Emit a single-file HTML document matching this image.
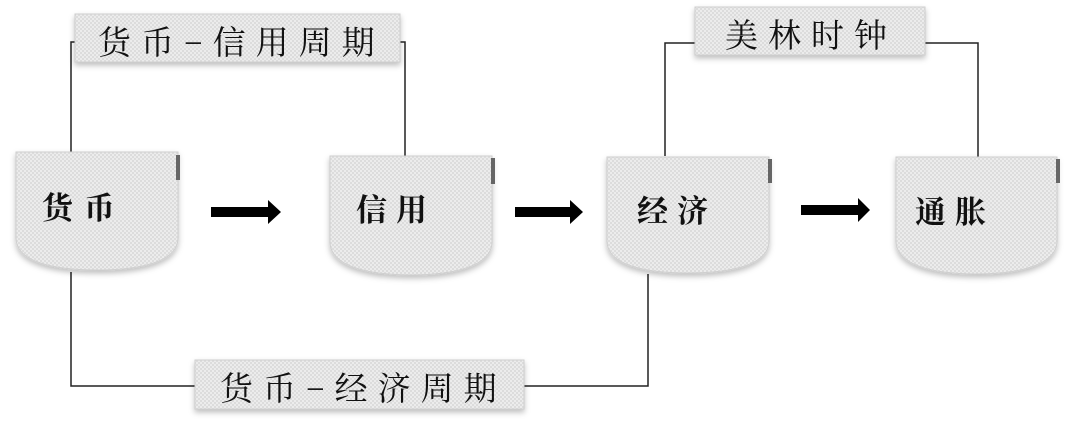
<!DOCTYPE html>
<html><head><meta charset="utf-8"><style>
html,body{margin:0;padding:0;background:#fff;}
svg{display:block}
text{font-family:"Liberation Serif","Noto Serif CJK SC",serif;fill:#111;}
</style></head><body>
<svg width="1074" height="423" viewBox="0 0 1074 423" xmlns="http://www.w3.org/2000/svg">
<defs>
<pattern id="p" width="4" height="4" patternUnits="userSpaceOnUse">
<rect width="4" height="4" fill="#ececec"/>
<rect width="2" height="2" fill="#dcdcdc"/>
<rect x="2" y="2" width="2" height="2" fill="#dcdcdc"/>
</pattern>
<filter id="s" x="-10%" y="-10%" width="120%" height="130%">
<feDropShadow dx="0" dy="3" stdDeviation="3" flood-color="#000" flood-opacity="0.25"/>
</filter>
</defs>
<g stroke="#222" stroke-width="1.5" fill="none">
<polyline points="71,152 71,42 76,42"/>
<polyline points="400,42 405,42 405,157"/>
<polyline points="665,156 665,43 696,43"/>
<polyline points="925,43 978,43 978,157"/>
<polyline points="71,272 71,386 196,386"/>
<polyline points="524,386 648,386 648,274"/>
</g>
<g filter="url(#s)" fill="url(#p)" stroke="#cfcfcf" stroke-width="1">
<path d="M16,152 H178 V238 C178,262 140,270 97,270 C54,270 16,262 16,238 Z"/>
<path d="M330,156 H492 V242 C492,266 454,275 411,275 C368,275 330,266 330,242 Z"/>
<path d="M607,157 H769 V241 C769,265 731,273 688,273 C645,273 607,265 607,241 Z"/>
<path d="M896,157 H1057 V241 C1057,265 1019,274 976,274 C933,274 896,265 896,241 Z"/>
<rect x="75" y="14" width="325" height="48"/>
<rect x="695" y="7" width="230" height="48"/>
<rect x="195" y="360" width="329" height="49"/>
</g>
<g fill="#666">
<rect x="176" y="155" width="4" height="25"/>
<rect x="491" y="158" width="4" height="26"/>
<rect x="768" y="159" width="4" height="24"/>
<rect x="1056" y="159" width="4" height="24"/>
</g>
<g fill="#000">
<path d="M211,207 H268 V200 L281,212 L268,224 V217 H211 Z"/>
<path d="M515,207 H570 V200 L583,212 L570,224 V217 H515 Z"/>
<path d="M801,205 H858 V198 L870,210 L858,222 V215 H801 Z"/>
</g>
<g font-size="31" font-weight="bold">
<text x="42" y="219" letter-spacing="11">货币</text>
<text x="356" y="221" letter-spacing="9">信用</text>
<text x="637" y="222" letter-spacing="9">经济</text>
<text x="915" y="223" letter-spacing="9">通胀</text>
</g>
<g font-size="33">
<text x="98" y="54" letter-spacing="10">货币−信用周期</text>
<text x="725" y="47" letter-spacing="10">美林时钟</text>
<text x="220" y="400" letter-spacing="10">货币−经济周期</text>
</g>
</svg>
</body></html>
